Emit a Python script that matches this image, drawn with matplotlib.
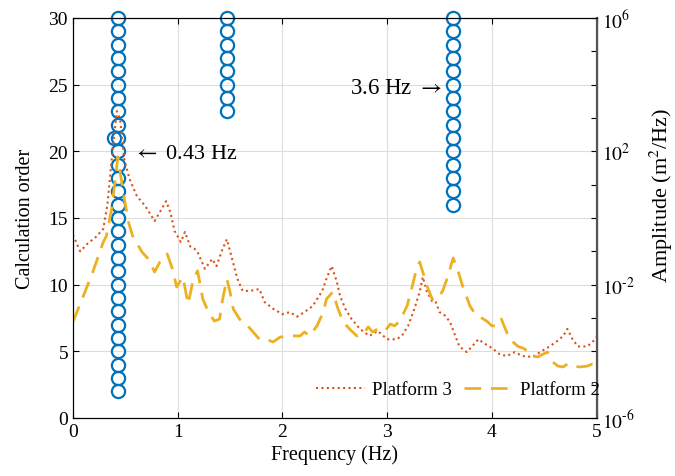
#modal frequency vs calculation order, with platform PSD on a log axis

import numpy as np
import matplotlib.pyplot as plt

plt.rcParams["font.family"] = ["Liberation Serif", "DejaVu Serif"]
plt.rcParams["mathtext.fontset"] = "stix"

#identified frequencies per calculation order:
freq_a = 0.43
orders_a = list(range(2, 31))
freq_b = 1.47
orders_b = list(range(23, 31))
freq_c = 3.63
orders_c = list(range(16, 31))
freq_extra = 0.39
orders_extra = [21]

#Platform 3 spectrum:
f3 = [0.00, 0.07, 0.14, 0.22, 0.29, 0.33, 0.38, 0.42, 0.45, 0.49, 0.54, 0.61, 0.69, 0.78, 0.83,
      0.89, 0.93, 0.97, 1.03, 1.07, 1.12, 1.16, 1.19, 1.26, 1.33, 1.37, 1.43, 1.47, 1.52, 1.57,
      1.62, 1.69, 1.78, 1.83, 1.91, 2.00, 2.07, 2.14, 2.21, 2.29, 2.38, 2.42, 2.47, 2.52, 2.55,
      2.60, 2.66, 2.74, 2.83, 2.91, 3.00, 3.09, 3.14, 3.20, 3.26, 3.31, 3.34, 3.38, 3.43, 3.46,
      3.50, 3.55, 3.60, 3.65, 3.69, 3.76, 3.81, 3.87, 3.93, 4.01, 4.07, 4.14, 4.22, 4.29, 4.39,
      4.46, 4.55, 4.62, 4.68, 4.72, 4.77, 4.82, 4.91, 4.96, 5.00]
p3 = [3.1e-1, 1.0e-1, 1.7e-1, 2.7e-1, 4.7e-1, 2.6, 1.2e2, 1.6e3, 9.3e2, 5.9e1, 1.5e1, 4.6, 2.3, 8.1e-1, 1.5,
      3.2, 1.5, 4.1e-1, 1.9e-1, 3.8e-1, 1.4e-1, 1.2e-1, 9.5e-2, 3.0e-2, 5.9e-2, 3.6e-2, 1.2e-1, 2.3e-1, 5.9e-2, 1.5e-2,
      6.5e-3, 6.5e-3, 7.4e-3, 3.0e-3, 1.9e-3, 1.3e-3, 1.5e-3, 1.1e-3, 1.5e-3, 2.3e-3, 6.5e-3, 1.5e-2, 3.6e-2, 1.2e-2, 4.6e-3,
      1.9e-3, 9.3e-4, 4.7e-4, 2.9e-4, 4.1e-4, 2.3e-4, 2.3e-4, 2.9e-4, 5.8e-4, 1.9e-3, 6.0e-3, 1.7e-2, 6.0e-3, 3.2e-3, 3.2e-3,
      1.5e-3, 1.2e-3, 7.6e-4, 2.9e-4, 1.4e-4, 9.5e-5, 1.4e-4, 2.3e-4, 1.7e-4, 1.2e-4, 8.3e-5, 7.2e-5, 9.5e-5, 7.2e-5, 6.8e-5,
      9.5e-5, 1.4e-4, 2.0e-4, 2.9e-4, 4.7e-4, 2.3e-4, 1.4e-4, 1.4e-4, 1.9e-4, 2.7e-4]

#Platform 2 spectrum:
f2 = [0.00, 0.10, 0.19, 0.29, 0.32, 0.37, 0.43, 0.48, 0.53, 0.57, 0.66, 0.72, 0.78, 0.83, 0.90,
      0.95, 0.99, 1.05, 1.10, 1.15, 1.19, 1.24, 1.29, 1.35, 1.40, 1.43, 1.47, 1.50, 1.53, 1.59,
      1.67, 1.72, 1.78, 1.85, 1.91, 1.98, 2.04, 2.10, 2.17, 2.21, 2.26, 2.33, 2.39, 2.42, 2.48,
      2.53, 2.58, 2.64, 2.71, 2.77, 2.82, 2.86, 2.91, 2.98, 3.03, 3.07, 3.12, 3.19, 3.24, 3.28,
      3.31, 3.34, 3.38, 3.43, 3.48, 3.53, 3.58, 3.63, 3.67, 3.72, 3.79, 3.84, 3.88, 3.95, 4.00,
      4.05, 4.09, 4.12, 4.17, 4.25, 4.31, 4.38, 4.44, 4.49, 4.53, 4.58, 4.63, 4.68, 4.72, 4.77,
      4.84, 4.91, 4.96, 5.00]
p2 = [7.6e-4, 4.6e-3, 2.4e-2, 1.9e-1, 2.9e-1, 1.9, 6.8e1, 6.0, 7.6e-1, 2.9e-1, 9.5e-2, 5.9e-2, 2.4e-2, 4.8e-2, 8.3e-2,
      3.0e-2, 8.5e-3, 1.7e-2, 2.6e-3, 1.5e-2, 2.6e-2, 3.7e-3, 1.6e-3, 8.1e-4, 9.3e-4, 3.7e-3, 1.5e-2, 6.0e-3, 1.9e-3, 9.3e-4,
      5.8e-4, 3.8e-4, 2.3e-4, 2.3e-4, 1.9e-4, 2.7e-4, 2.7e-4, 2.9e-4, 2.9e-4, 3.8e-4, 2.9e-4, 5.8e-4, 1.5e-3, 3.7e-3, 6.0e-3,
      1.9e-3, 7.6e-4, 4.7e-4, 2.9e-4, 3.3e-4, 5.4e-4, 3.8e-4, 4.7e-4, 4.1e-4, 6.6e-4, 5.8e-4, 8.1e-4, 2.3e-3, 9.1e-3, 3.0e-2,
      4.8e-2, 2.4e-2, 9.1e-3, 3.7e-3, 3.7e-3, 6.5e-3, 1.8e-2, 6.3e-2, 3.0e-2, 9.1e-3, 2.3e-3, 1.3e-3, 1.1e-3, 8.1e-4, 5.8e-4,
      5.8e-4, 9.3e-4, 5.4e-4, 2.3e-4, 1.4e-4, 1.2e-4, 7.2e-5, 6.8e-5, 8.3e-5, 9.5e-5, 4.8e-5, 3.6e-5, 3.4e-5, 4.2e-5, 3.6e-5,
      3.4e-5, 3.6e-5, 4.2e-5, 3.9e-5]

fig = plt.figure(figsize=(6.75, 4.77), dpi=100)
ax = fig.add_axes([0.108, 0.1216, 0.776, 0.8386])

blue = "#0072BD"
circ = dict(linestyle="none", marker="o", markersize=9.5, markerfacecolor="none",
            markeredgecolor=blue, markeredgewidth=1.6, clip_on=False, zorder=5)
ax.plot([freq_a] * len(orders_a), orders_a, **circ)
ax.plot([freq_b] * len(orders_b), orders_b, **circ)
ax.plot([freq_c] * len(orders_c), orders_c, **circ)
ax.plot([freq_extra] * len(orders_extra), orders_extra, **circ)

ax.set_xlim(0, 5)
ax.set_ylim(0, 30)
ax.set_xticks(range(0, 6))
ax.set_yticks(range(0, 31, 5))
ax.grid(True, color="#dddddd", linewidth=0.8)
ax.set_axisbelow(True)
ax.tick_params(direction="in", labelsize=14, top=True, length=4)
ax.set_xlabel("Frequency (Hz)", fontsize=14.5, labelpad=3)
ax.set_ylabel("Calculation order", fontsize=14.5, labelpad=10)

ax.text(0.57, 19.8, r"$\leftarrow$ 0.43 Hz", fontsize=16, va="center", ha="left")
ax.text(3.52, 24.8, r"3.6 Hz $\rightarrow$", fontsize=16.5, va="center", ha="right")

#right axis: amplitude
ax2 = ax.twinx()
ax2.plot(f3, p3, linestyle=(0, (1, 1.6)), color="#D95319", linewidth=1.5, label="Platform 3")
ax2.plot(f2, p2, linestyle=(0, (6, 3.5)), color="#EDB120", linewidth=2, label="Platform 2")
ax2.set_yscale("log")
ax2.set_ylim(1e-6, 1e6)
ticks = [10.0 ** k for k in range(-6, 7)]
ax2.set_yticks(ticks)
ax2.set_yticklabels([(r"$10^{%d}$" % k).replace("-", r"\text{-}") if k % 4 == 2 else ""
                     for k in range(-6, 7)])
ax2.minorticks_off()
ax2.tick_params(direction="in", labelsize=14, length=4)
ax2.spines["right"].set_linewidth(1.6)
ax2.spines["right"].set_color("#555555")
ax2.set_ylabel("Amplitude (m$^2$/Hz)", fontsize=16)
ax2.yaxis.set_label_coords(1.097, 0.56)
ax2.legend(loc="lower right", ncol=2, frameon=False, fontsize=13.5,
           handlelength=2.6, columnspacing=0.6, handletextpad=0.4,
           borderaxespad=0.0, bbox_to_anchor=(1.02, 0.03))

fig.savefig("out.png", dpi=100)
